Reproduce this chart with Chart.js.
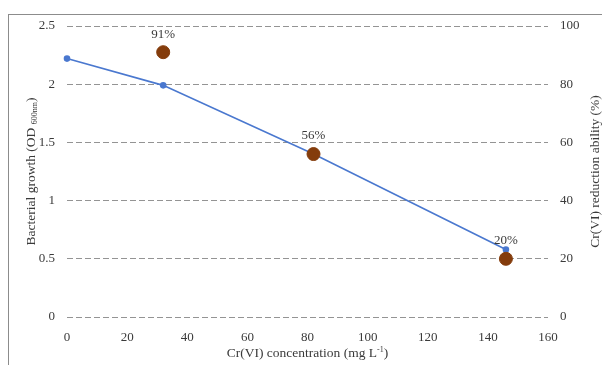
<!DOCTYPE html>
<html>
<head>
<meta charset="utf-8">
<script src="https://cdn.jsdelivr.net/npm/chart.js@4"></script>
<style>
  body { margin: 0; overflow: hidden; background: #fff; }
  #wrap { position: relative; width: 602px; height: 365px; }
  #frame { position: absolute; left: 8px; top: 14px; width: 700px; height: 400px; border: 1px solid #8c8c8c; box-sizing: border-box; }
  canvas { position: absolute; left: 0; top: 0; }
</style>
</head>
<body>
<div id="wrap">
  <div id="frame"></div>
  <canvas id="myChart" width="602" height="365"></canvas>
</div>
<script>
// growth curve (left axis)
const concentration = [0, 32, 82, 146];
const growth = [2.22, 1.99, 1.40, 0.58];
// Cr(VI) reduction (right axis)
const reductionConc = [32, 82, 146];
const reduction = [91, 56, 20];
const reductionLabels = ["91%", "56%", "20%"];

const xTicks = [0, 20, 40, 60, 80, 100, 120, 140, 160];

const serif = "'Liberation Serif', 'Times New Roman', serif";
const txt = "#3a3a3a";

// draws the little % labels and the axis titles (with sub/superscripts)
const extras = {
  id: "extras",
  afterDatasetsDraw(chart) {
    const ctx = chart.ctx;
    const meta = chart.getDatasetMeta(1);
    ctx.save();
    ctx.fillStyle = txt;
    ctx.font = "13px " + serif;
    ctx.textAlign = "center";
    ctx.textBaseline = "middle";
    meta.data.forEach((pt, i) => {
      ctx.fillText(reductionLabels[i], pt.x, pt.y - 18);
    });
    ctx.restore();
  },
  afterDraw(chart) {
    const ctx = chart.ctx;
    const a = chart.chartArea;
    const midY = (a.top + a.bottom) / 2;
    ctx.save();
    ctx.fillStyle = txt;
    ctx.textBaseline = "alphabetic";

    // x title
    const big = "13.5px " + serif, small = "8px " + serif;
    let parts = [["Cr(VI) concentration (mg L", big, 0], ["-1", small, -5], [")", big, 0]];
    drawParts(ctx, parts, (a.left + a.right) / 2, 357);

    // left title
    ctx.save();
    ctx.translate(30, midY);
    ctx.rotate(-Math.PI / 2);
    parts = [["Bacterial growth (OD ", big, 0], ["600nm", small, 2], [")", big, 0]];
    drawParts(ctx, parts, 0, 5);
    ctx.restore();

    // right title
    ctx.save();
    ctx.translate(594, midY);
    ctx.rotate(-Math.PI / 2);
    parts = [["Cr(VI) reduction ability (%)", big, 0]];
    drawParts(ctx, parts, 0, 5);
    ctx.restore();

    ctx.restore();
  }
};

function drawParts(ctx, parts, cx, y) {
  let total = 0;
  parts.forEach(p => { ctx.font = p[1]; total += ctx.measureText(p[0]).width; });
  let x = cx - total / 2;
  ctx.textAlign = "left";
  parts.forEach(p => {
    ctx.font = p[1];
    ctx.fillText(p[0], x, y + p[2]);
    x += ctx.measureText(p[0]).width;
  });
}

const ctx = document.getElementById("myChart").getContext("2d");
const myChart = new Chart(ctx, {
  type: "scatter",
  data: {
    datasets: [
      {
        label: "Bacterial growth",
        data: concentration.map((c, i) => ({ x: c, y: growth[i] })),
        showLine: true,
        borderColor: "#4a78cf",
        backgroundColor: "#4a78cf",
        borderWidth: 1.6,
        pointRadius: 2.5,
        clip: false,
        yAxisID: "y",
        order: 2
      },
      {
        label: "Cr(VI) reduction",
        data: reductionConc.map((c, i) => ({ x: c, y: reduction[i] })),
        showLine: false,
        borderColor: "#843c0c",
        backgroundColor: "#843c0c",
        pointRadius: 6.5,
        clip: false,
        yAxisID: "y1",
        order: 1
      }
    ]
  },
  options: {
    responsive: false,
    animation: false,
    layout: { padding: { top: 26, left: 0, right: 0, bottom: 0 } },
    plugins: {
      legend: { display: false },
      tooltip: { enabled: false }
    },
    scales: {
      x: {
        type: "linear",
        min: 0,
        max: 160,
        afterBuildTicks: s => { s.ticks = xTicks.map(v => ({ value: v })); },
        grid: { display: false, drawTicks: false },
        border: { display: false },
        ticks: { color: txt, font: { family: serif, size: 13 }, padding: 13 },
        afterFit: s => { s.height = 48; }
      },
      y: {
        position: "left",
        min: 0,
        max: 2.5,
        ticks: {
          stepSize: 0.5, color: txt, font: { family: serif, size: 13 }, padding: 12,
          callback: v => String(v)
        },
        grid: { color: "#949494", lineWidth: 1, drawTicks: false },
        border: { display: false, dash: [6, 3] },
        afterFit: s => { s.width = 67; }
      },
      y1: {
        position: "right",
        min: 0,
        max: 100,
        ticks: { stepSize: 20, color: txt, font: { family: serif, size: 13 }, padding: 12 },
        grid: { display: false, drawTicks: false },
        border: { display: false },
        afterFit: s => { s.width = 54; }
      }
    }
  },
  plugins: [extras]
});
</script>
</body>
</html>
